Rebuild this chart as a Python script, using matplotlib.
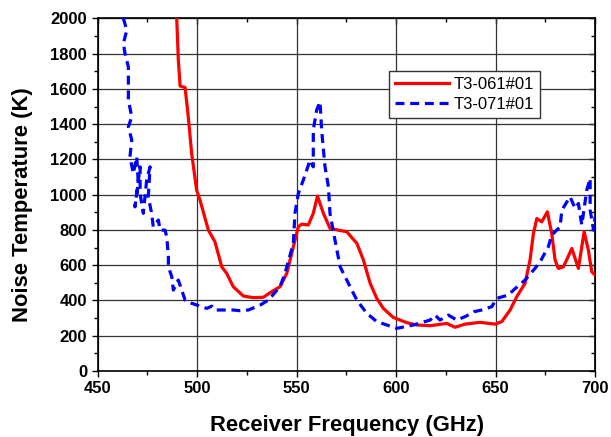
import matplotlib
matplotlib.use("Agg")
import matplotlib.pyplot as plt
from matplotlib.ticker import MultipleLocator, NullFormatter

# T3-061#01 (solid red)
f_red = [489.8, 490.6, 491.5, 494.0, 495.6, 497.3, 499.8, 501.5, 505.7, 509.0,
         512.4, 514.9, 518.2, 523.3, 528.3, 533.3, 537.5, 541.7, 545.1, 548.4,
         550.9, 552.6, 555.9, 558.4, 560.5, 563.5, 566.8, 571.0, 575.2, 580.3,
         583.6, 587.0, 590.3, 593.6, 598.6, 605.4, 610.4, 617.1, 625.5, 629.6,
         634.7, 642.2, 649.7, 653.1, 657.3, 660.6, 664.8, 667.3, 669.0, 670.7,
         673.2, 676.0, 678.2, 679.9, 681.5, 684.1, 688.3, 691.6, 694.5, 696.6,
         698.3, 700.0]
t_red = [2000, 1763, 1616, 1608, 1442, 1234, 1026, 969, 799, 733,
         591, 554, 478, 425, 416, 418, 450, 478, 554, 705,
         818, 833, 828, 894, 992, 894, 809, 799, 790, 724,
         629, 497, 412, 355, 304, 274, 261, 257, 270, 248,
         266, 276, 266, 280, 346, 421, 497, 629, 780, 865,
         846, 903, 780, 629, 582, 591, 695, 582, 790, 686,
         563, 544]

# T3-071#01 (dashed blue)
f_blue = [463.0, 464.7, 463.0, 463.8, 465.5, 465.5, 467.2, 465.5, 467.2, 466.3,
          468.0, 469.7, 470.5, 468.8, 471.4, 471.4, 473.0, 474.7, 476.4, 475.5,
          477.2, 478.0, 480.6, 481.4, 483.9, 484.8, 485.6, 485.6, 487.3, 488.1,
          490.6, 492.3, 494.0, 497.3, 504.9, 507.4, 509.0, 518.2, 521.6, 525.8,
          531.7, 535.8, 541.7, 544.2, 548.4, 549.2, 550.9, 553.4, 556.8, 558.4,
          558.4, 560.1, 561.8, 562.6, 564.3, 566.0, 566.8, 569.3, 571.9, 576.9,
          580.3, 585.3, 590.3, 600.4, 608.7, 617.1, 619.6, 622.1, 626.3, 630.5,
          635.0, 639.0, 643.0, 648.1, 650.6, 656.4, 659.0, 664.8, 669.8, 672.4,
          676.5, 678.2, 682.4, 683.3, 687.4, 690.0, 691.6, 693.3, 695.8, 697.5,
          697.5, 699.2, 700.0]
t_blue = [2000, 1933, 1858, 1801, 1725, 1536, 1442, 1385, 1310, 1215,
          1120, 1215, 1064, 931, 1158, 1007, 894, 1083, 1158, 988,
          894, 818, 856, 799, 799, 761, 648, 591, 535, 459,
          516, 459, 402, 384, 355, 368, 346, 346, 342, 346,
          374, 402, 478, 554, 724, 894, 1007, 1083, 1196, 1158,
          1366, 1480, 1527, 1366, 1158, 1045, 894, 743, 591, 478,
          402, 327, 280, 242, 261, 289, 317, 289, 317, 289,
          310, 336, 346, 365, 412, 431, 459, 516, 582, 620,
          705, 771, 818, 913, 988, 922, 950, 828, 1026, 1092,
          913, 799, 875]

plt.rcParams["font.family"] = ["Liberation Sans", "DejaVu Sans"]

fig = plt.figure(figsize=(6.11, 4.37), dpi=100)
ax = fig.add_axes([0.1596, 0.151, 0.8144, 0.807])

ax.plot(f_red, t_red, color="#ff0000", lw=2.3, label="T3-061#01", zorder=3)
ax.plot(f_blue, t_blue, color="#0000ff", lw=2.3, dashes=(2.8, 1.8),
        label="T3-071#01", zorder=3)

ax.set_xlim(450, 700)
ax.set_ylim(0, 2000)
ax.xaxis.set_major_locator(MultipleLocator(50))
ax.xaxis.set_minor_locator(MultipleLocator(25))
ax.yaxis.set_major_locator(MultipleLocator(200))
ax.yaxis.set_minor_locator(MultipleLocator(100))
ax.grid(True, which="major", color="#333333", lw=0.9)
ax.set_axisbelow(True)

ax.tick_params(which="both", direction="out", top=False, right=False,
               width=1.0, labelsize=12)
ax.tick_params(which="major", length=4)
ax.tick_params(which="minor", length=3)
for lab in ax.get_xticklabels() + ax.get_yticklabels():
    lab.set_fontweight("bold")
for s in ax.spines.values():
    s.set_linewidth(1.2)

# inward ticks on top and right
top = ax.secondary_xaxis("top")
right = ax.secondary_yaxis("right")
top.xaxis.set_major_locator(MultipleLocator(50))
top.xaxis.set_minor_locator(MultipleLocator(25))
right.yaxis.set_major_locator(MultipleLocator(200))
right.yaxis.set_minor_locator(MultipleLocator(100))
for sec in (top, right):
    sec.tick_params(which="both", direction="in", width=1.0)
    sec.tick_params(which="major", length=4)
    sec.tick_params(which="minor", length=3)
top.xaxis.set_major_formatter(NullFormatter())
right.yaxis.set_major_formatter(NullFormatter())

ax.set_xlabel("Receiver Frequency (GHz)", fontsize=15.8, fontweight="bold")
ax.set_ylabel("Noise Temperature (K)", fontsize=15.8, fontweight="bold")
ax.xaxis.set_label_coords(0.5025, -0.125)
ax.yaxis.set_label_coords(-0.13, 0.473)

ax.legend(loc="upper left", bbox_to_anchor=(0.57, 0.873), fontsize=12,
          frameon=True, fancybox=False, edgecolor="#333333", framealpha=1,
          handlelength=3.2, borderpad=0.35, labelspacing=0.3, handletextpad=0.3)

plt.savefig("out.png", dpi=100)
